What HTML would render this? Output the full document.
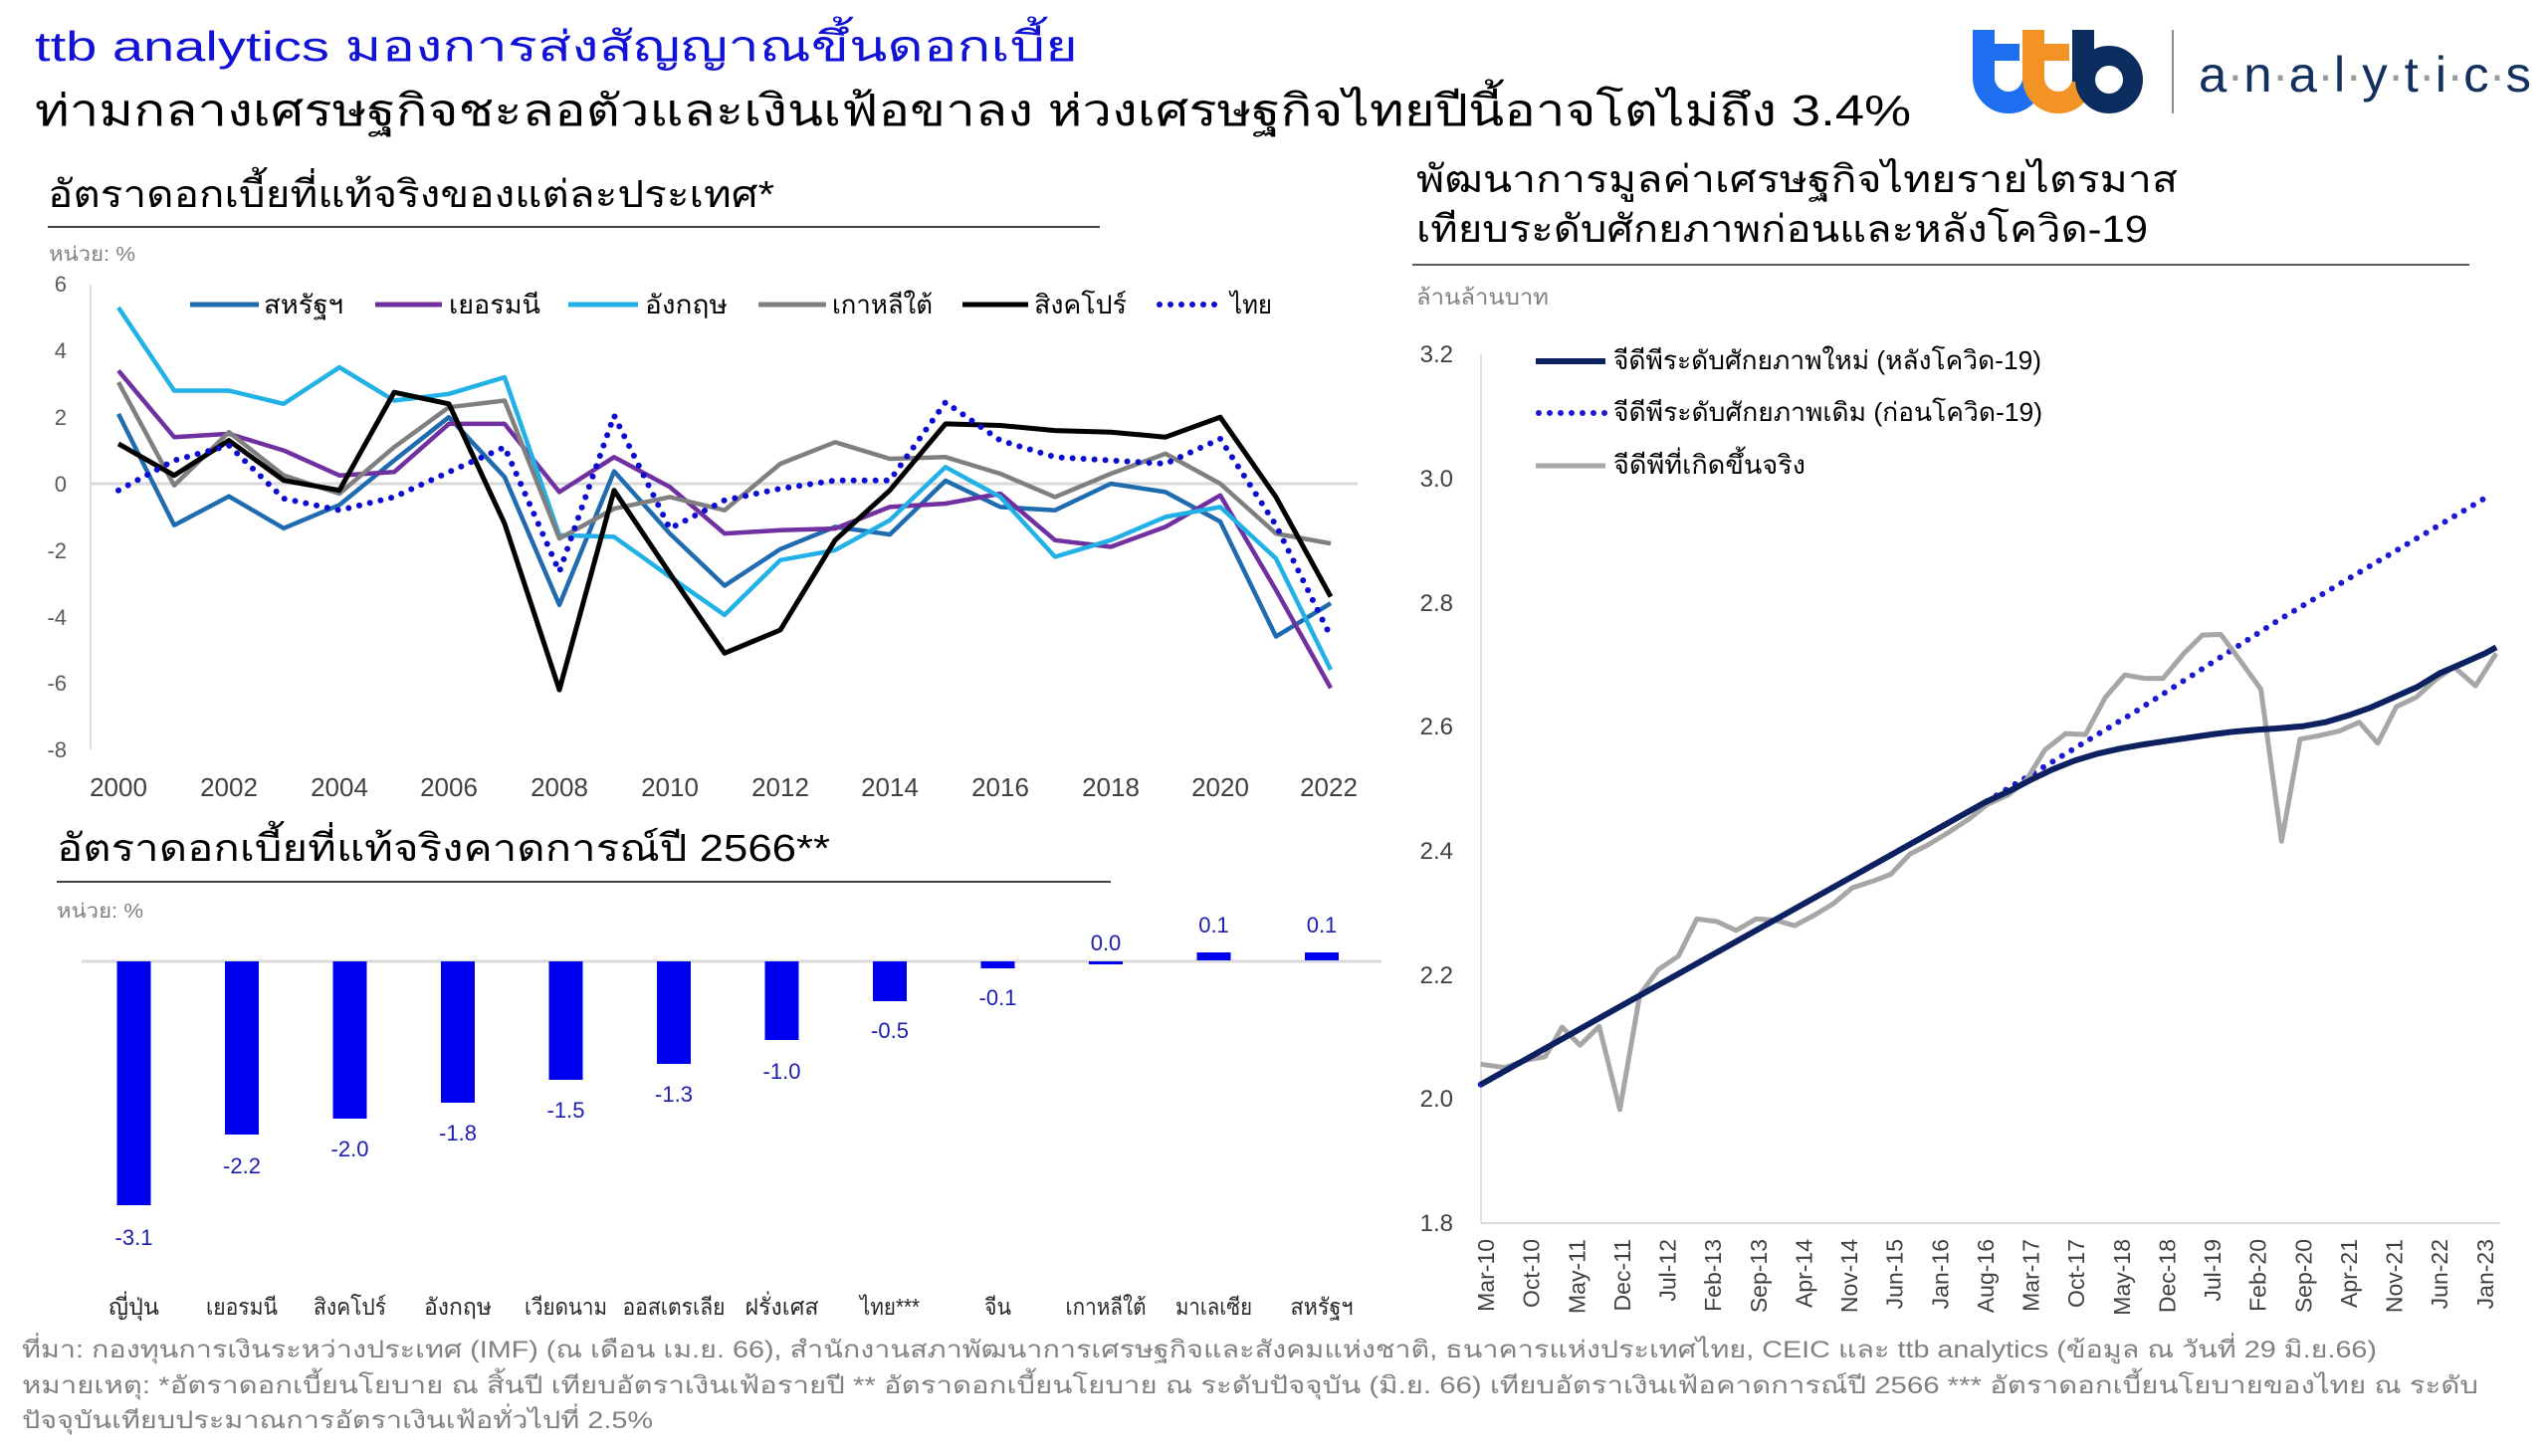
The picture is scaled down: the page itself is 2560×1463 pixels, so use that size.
<!DOCTYPE html>
<html><head><meta charset="utf-8"><style>
html,body{margin:0;padding:0;background:#fff;}
svg{display:block;}
text{font-family:"Liberation Sans","Noto Sans CJK SC",sans-serif;}
</style></head><body>
<svg width="2560" height="1463" viewBox="0 0 2560 1463" xmlns="http://www.w3.org/2000/svg">
<rect width="2560" height="1463" fill="#fff"/>

<!-- Titles -->
<text x="35" y="61" font-size="42" fill="#1212d6" textLength="1048" lengthAdjust="spacingAndGlyphs">ttb analytics มองการส่งสัญญาณขึ้นดอกเบี้ย</text>
<text x="35" y="126" font-size="44" fill="#000" textLength="1885" lengthAdjust="spacingAndGlyphs">ท่ามกลางเศรษฐกิจชะลอตัวและเงินเฟ้อขาลง ห่วงเศรษฐกิจไทยปีนี้อาจโตไม่ถึง 3.4%</text>

<!-- Logo -->
<g fill="none">
<path d="M1993 30 V78 A25 25 0 0 0 2043 78" stroke="#1e6ef0" stroke-width="22"/>
<rect x="1993" y="44" width="36" height="17" fill="#1e6ef0"/>
<path d="M2043 30 V78 A25 25 0 0 0 2093 78" stroke="#f39325" stroke-width="22"/>
<rect x="2043" y="44" width="36" height="17" fill="#f39325"/>
<rect x="2082" y="30" width="22" height="52" fill="#0b2c5f"/>
<circle cx="2119" cy="80" r="24" stroke="#0b2c5f" stroke-width="20"/>
</g>
<line x1="2183" y1="30" x2="2183" y2="114" stroke="#8c8c8c" stroke-width="2"/>
<text x="2209" y="92" font-size="50" fill="#14305e" textLength="334" lengthAdjust="spacingAndGlyphs">a<tspan fill="#9a9a9a">·</tspan>n<tspan fill="#9a9a9a">·</tspan>a<tspan fill="#9a9a9a">·</tspan>l<tspan fill="#9a9a9a">·</tspan>y<tspan fill="#9a9a9a">·</tspan>t<tspan fill="#9a9a9a">·</tspan>i<tspan fill="#9a9a9a">·</tspan>c<tspan fill="#9a9a9a">·</tspan>s</text>

<!-- ===== Left line chart ===== -->
<text x="48" y="208" font-size="38" fill="#000" textLength="730" lengthAdjust="spacingAndGlyphs">อัตราดอกเบี้ยที่แท้จริงของแต่ละประเทศ*</text>
<line x1="48" y1="228" x2="1105" y2="228" stroke="#404040" stroke-width="2"/>
<text x="49" y="262" font-size="20" fill="#808080" textLength="87" lengthAdjust="spacingAndGlyphs">หน่วย: %</text>

<line x1="91" y1="286" x2="91" y2="753" stroke="#e0e0e0" stroke-width="2"/>
<line x1="91" y1="486" x2="1364" y2="486" stroke="#d9d9d9" stroke-width="3"/>

<g font-size="22" fill="#595959" text-anchor="end">
<text x="67" y="293">6</text>
<text x="67" y="360">4</text>
<text x="67" y="427">2</text>
<text x="67" y="494">0</text>
<text x="67" y="561">-2</text>
<text x="67" y="628">-4</text>
<text x="67" y="694">-6</text>
<text x="67" y="761">-8</text>
</g>
<g font-size="26" fill="#404040" text-anchor="middle">
<text x="119" y="800">2000</text>
<text x="230" y="800">2002</text>
<text x="341" y="800">2004</text>
<text x="451" y="800">2006</text>
<text x="562" y="800">2008</text>
<text x="673" y="800">2010</text>
<text x="784" y="800">2012</text>
<text x="894" y="800">2014</text>
<text x="1005" y="800">2016</text>
<text x="1116" y="800">2018</text>
<text x="1226" y="800">2020</text>
<text x="1335" y="800">2022</text>
</g>

<g fill="none" stroke-linejoin="round" stroke-width="4.5">
<polyline stroke="#1f6bb0" points="119,415.9 175,527.8 230,498.7 285,530.8 341,507.4 396,462.6 451,419.2 507,479.3 562,607.9 617,473.6 673,536.1 728,588.5 784,551.8 839,529.4 894,537.1 950,483 1005,509.4 1060,512.7 1116,486 1171,494.4 1226,524.1 1282,639.6 1337,606.2"/>
<polyline stroke="#7030a0" points="119,372.4 175,439.2 230,435.9 285,452.6 341,477.7 396,474.3 451,425.9 507,425.9 562,494.4 617,459.3 673,489.3 728,536.1 784,532.8 839,531.1 894,509.4 950,506 1005,496 1060,542.8 1116,549.5 1171,529.4 1226,497.7 1282,592.9 1337,691.4"/>
<polyline stroke="#21b1e6" points="119,309 175,392.5 230,392.5 285,405.8 341,369.1 396,402.5 451,395.8 507,379.1 562,537.8 617,539.4 673,579.5 728,617.9 784,562.8 839,552.8 894,522.7 950,469.3 1005,499.4 1060,559.5 1116,542.8 1171,519.4 1226,509.4 1282,561.2 1337,673"/>
<polyline stroke="#7f7f7f" points="119,384.1 175,487.7 230,434.2 285,477.7 341,496 396,449.3 451,409.2 507,402.5 562,541.1 617,511.1 673,499.4 728,512.7 784,466 839,444.3 894,461 950,459.3 1005,476 1060,499.4 1116,476 1171,455.9 1226,486 1282,536.1 1337,546.1"/>
<polyline stroke="#000" stroke-width="5" points="119,445.9 175,477.7 230,442.6 285,482.7 341,492.7 396,394.2 451,405.8 507,526.1 562,693.1 617,492.7 673,576.2 728,656.3 784,633 839,542.8 894,492.7 950,425.9 1005,427.5 1060,432.6 1116,434.2 1171,439.2 1226,419.2 1282,499.4 1337,599.6"/>
<polyline stroke="#0a0ad0" stroke-width="6" stroke-linecap="round" stroke-dasharray="0 11" points="119,492.7 175,462.6 230,447.6 285,501 341,512.7 396,499.4 451,474.3 507,449.3 562,574.5 617,417.5 673,531.1 728,502.7 784,491 839,482.7 894,482.7 950,404.2 1005,442.6 1060,459.3 1116,462.6 1171,466 1226,440.9 1282,527.8 1337,639.6"/>
</g>

<!-- left legend -->
<g stroke-width="5" fill="none">
<line x1="191" y1="306" x2="260" y2="306" stroke="#1f6bb0"/>
<line x1="377" y1="306" x2="444" y2="306" stroke="#7030a0"/>
<line x1="571" y1="306" x2="641" y2="306" stroke="#21b1e6"/>
<line x1="762" y1="306" x2="830" y2="306" stroke="#7f7f7f"/>
<line x1="967" y1="306" x2="1033" y2="306" stroke="#000"/>
<line x1="1165" y1="306" x2="1224" y2="306" stroke="#0a0ad0" stroke-width="6" stroke-linecap="round" stroke-dasharray="0 11"/>
</g>
<g font-size="26" fill="#000">
<text x="265" y="315" textLength="80" lengthAdjust="spacingAndGlyphs">สหรัฐฯ</text>
<text x="451" y="315" textLength="92" lengthAdjust="spacingAndGlyphs">เยอรมนี</text>
<text x="648" y="315" textLength="83" lengthAdjust="spacingAndGlyphs">อังกฤษ</text>
<text x="836" y="315" textLength="101" lengthAdjust="spacingAndGlyphs">เกาหลีใต้</text>
<text x="1039" y="315" textLength="93" lengthAdjust="spacingAndGlyphs">สิงคโปร์</text>
<text x="1236" y="315" textLength="42" lengthAdjust="spacingAndGlyphs">ไทย</text>
</g>

<!-- ===== Bar chart ===== -->
<text x="57" y="865" font-size="38" fill="#000" textLength="777" lengthAdjust="spacingAndGlyphs">อัตราดอกเบี้ยที่แท้จริงคาดการณ์ปี 2566**</text>
<line x1="57" y1="886" x2="1116" y2="886" stroke="#404040" stroke-width="2"/>
<text x="57" y="922" font-size="20" fill="#808080" textLength="87" lengthAdjust="spacingAndGlyphs">หน่วย: %</text>

<line x1="82" y1="966" x2="1388" y2="966" stroke="#d9d9d9" stroke-width="3"/>
<g fill="#0000f0">
<rect x="117.5" y="966" width="34" height="245"/>
<rect x="226" y="966" width="34" height="174"/>
<rect x="334.5" y="966" width="34" height="158"/>
<rect x="443" y="966" width="34" height="142"/>
<rect x="551.5" y="966" width="34" height="119"/>
<rect x="660" y="966" width="34" height="103"/>
<rect x="768.5" y="966" width="34" height="79"/>
<rect x="877" y="966" width="34" height="40"/>
<rect x="985.5" y="966" width="34" height="7"/>
<rect x="1094" y="966" width="34" height="3"/>
<rect x="1202.5" y="957" width="34" height="8"/>
<rect x="1311" y="957" width="34" height="8"/>
</g>
<g font-size="22" fill="#1c1cb0" text-anchor="middle">
<text x="134.5" y="1251">-3.1</text>
<text x="243" y="1179">-2.2</text>
<text x="351.5" y="1162">-2.0</text>
<text x="460" y="1146">-1.8</text>
<text x="568.5" y="1123">-1.5</text>
<text x="677" y="1107">-1.3</text>
<text x="785.5" y="1084">-1.0</text>
<text x="894" y="1043">-0.5</text>
<text x="1002.5" y="1010">-0.1</text>
<text x="1111" y="955">0.0</text>
<text x="1219.5" y="937">0.1</text>
<text x="1328" y="937">0.1</text>
</g>
<g font-size="23" fill="#262626" text-anchor="middle">
<text x="134.5" y="1321" textLength="51" lengthAdjust="spacingAndGlyphs">ญี่ปุ่น</text>
<text x="243" y="1321" textLength="72" lengthAdjust="spacingAndGlyphs">เยอรมนี</text>
<text x="351.5" y="1321" textLength="73" lengthAdjust="spacingAndGlyphs">สิงคโปร์</text>
<text x="460" y="1321" textLength="68" lengthAdjust="spacingAndGlyphs">อังกฤษ</text>
<text x="568.5" y="1321" textLength="83" lengthAdjust="spacingAndGlyphs">เวียดนาม</text>
<text x="677" y="1321" textLength="103" lengthAdjust="spacingAndGlyphs">ออสเตรเลีย</text>
<text x="785.5" y="1321" textLength="74" lengthAdjust="spacingAndGlyphs">ฝรั่งเศส</text>
<text x="894" y="1321" textLength="60" lengthAdjust="spacingAndGlyphs">ไทย***</text>
<text x="1002.5" y="1321" textLength="27" lengthAdjust="spacingAndGlyphs">จีน</text>
<text x="1111" y="1321" textLength="81" lengthAdjust="spacingAndGlyphs">เกาหลีใต้</text>
<text x="1219.5" y="1321" textLength="77" lengthAdjust="spacingAndGlyphs">มาเลเซีย</text>
<text x="1328" y="1321" textLength="63" lengthAdjust="spacingAndGlyphs">สหรัฐฯ</text>
</g>

<!-- ===== Right chart ===== -->
<text x="1423" y="193" font-size="38" fill="#000" textLength="765" lengthAdjust="spacingAndGlyphs">พัฒนาการมูลค่าเศรษฐกิจไทยรายไตรมาส</text>
<text x="1423" y="243" font-size="38" fill="#000" textLength="735" lengthAdjust="spacingAndGlyphs">เทียบระดับศักยภาพก่อนและหลังโควิด-19</text>
<line x1="1419" y1="266" x2="2481" y2="266" stroke="#595959" stroke-width="2"/>
<text x="1423" y="306" font-size="22" fill="#808080" textLength="133" lengthAdjust="spacingAndGlyphs">ล้านล้านบาท</text>

<line x1="1488" y1="356" x2="1488" y2="1229" stroke="#e0e0e0" stroke-width="2"/>
<line x1="1488" y1="1229" x2="2512" y2="1229" stroke="#d9d9d9" stroke-width="2"/>
<g font-size="24" fill="#404040" text-anchor="end">
<text x="1460" y="364">3.2</text>
<text x="1460" y="489">3.0</text>
<text x="1460" y="614">2.8</text>
<text x="1460" y="738">2.6</text>
<text x="1460" y="863">2.4</text>
<text x="1460" y="988">2.2</text>
<text x="1460" y="1112">2.0</text>
<text x="1460" y="1237">1.8</text>
</g>
<g font-size="23" fill="#404040" text-anchor="end">
<text transform="translate(1501,1245) rotate(-90)">Mar-10</text>
<text transform="translate(1546.6,1245) rotate(-90)">Oct-10</text>
<text transform="translate(1592.3,1245) rotate(-90)">May-11</text>
<text transform="translate(1637.9,1245) rotate(-90)">Dec-11</text>
<text transform="translate(1683.5,1245) rotate(-90)">Jul-12</text>
<text transform="translate(1729.2,1245) rotate(-90)">Feb-13</text>
<text transform="translate(1774.8,1245) rotate(-90)">Sep-13</text>
<text transform="translate(1820.4,1245) rotate(-90)">Apr-14</text>
<text transform="translate(1866,1245) rotate(-90)">Nov-14</text>
<text transform="translate(1911.7,1245) rotate(-90)">Jun-15</text>
<text transform="translate(1957.3,1245) rotate(-90)">Jan-16</text>
<text transform="translate(2002.9,1245) rotate(-90)">Aug-16</text>
<text transform="translate(2048.6,1245) rotate(-90)">Mar-17</text>
<text transform="translate(2094.2,1245) rotate(-90)">Oct-17</text>
<text transform="translate(2139.8,1245) rotate(-90)">May-18</text>
<text transform="translate(2185.5,1245) rotate(-90)">Dec-18</text>
<text transform="translate(2231.1,1245) rotate(-90)">Jul-19</text>
<text transform="translate(2276.7,1245) rotate(-90)">Feb-20</text>
<text transform="translate(2322.3,1245) rotate(-90)">Sep-20</text>
<text transform="translate(2368,1245) rotate(-90)">Apr-21</text>
<text transform="translate(2413.6,1245) rotate(-90)">Nov-21</text>
<text transform="translate(2459.2,1245) rotate(-90)">Jun-22</text>
<text transform="translate(2504.9,1245) rotate(-90)">Jan-23</text>
</g>

<g fill="none" stroke-linejoin="round">
<polyline stroke="#1a1ad0" stroke-width="6" stroke-linecap="round" stroke-dasharray="0 11" points="1487.7,1089.7 1994.9,805.9 2143.6,716.2 2292.3,621.2 2500.5,498.3"/>
<polyline stroke="#a6a6a6" stroke-width="5" points="1487.7,1069.3 1511.5,1072.7 1533.8,1065.2 1552.4,1061.8 1569.5,1032 1587.4,1050.3 1606.7,1031.3 1627.5,1114.8 1647.6,999.4 1666.2,974.2 1686.3,960.7 1704.9,923.3 1725,926 1744.3,934.9 1764.4,923.3 1784.4,924.7 1803,930.1 1822.4,919.9 1842.4,907.7 1861,892.1 1881.9,885.3 1899.7,878.5 1919,858.1 1937.6,848.6 1957.7,836.4 1978.5,822.8 1997.1,807.9 2017.2,799.1 2035.8,784.1 2054.4,753.6 2075.2,737.3 2095.3,738 2115.3,700.6 2134.7,678.2 2154.7,681.6 2173.3,681.6 2194.2,656.5 2212.8,638.1 2231.3,637.5 2251.4,664.6 2271.5,692.5 2292.3,845.2 2310.9,742.7 2329.5,739.3 2350.3,734.6 2370.4,725.7 2389,746.8 2407.6,710.1 2427.7,700.6 2446.2,683.6 2465.6,670.1 2487.2,689.1 2508,656.5"/>
<polyline stroke="#0d2060" stroke-width="6" points="1487.7,1089.7 1994.9,805.9 2017.2,795.7 2039.5,784.1 2061.8,773.3 2084.1,764.4 2106.4,757.6 2130.2,752.2 2153.3,748.1 2175.6,744.7 2198.6,741.4 2221.7,738 2244,735.2 2267,733.2 2290.1,731.8 2313.1,729.8 2336.2,725.7 2359.2,718.9 2382.3,710.8 2405.3,700.6 2428.4,690.4 2450.7,676.8 2473.7,666.7 2496.8,656.5 2508,650.4"/>
</g>

<!-- right legend -->
<line x1="1543" y1="363" x2="1613" y2="363" stroke="#0d2060" stroke-width="6"/>
<line x1="1546" y1="415" x2="1613" y2="415" stroke="#1a1ad0" stroke-width="6" stroke-linecap="round" stroke-dasharray="0 11"/>
<line x1="1543" y1="468" x2="1613" y2="468" stroke="#a6a6a6" stroke-width="5"/>
<g font-size="26" fill="#000">
<text x="1621" y="371" textLength="430" lengthAdjust="spacingAndGlyphs">จีดีพีระดับศักยภาพใหม่ (หลังโควิด-19)</text>
<text x="1621" y="423" textLength="431" lengthAdjust="spacingAndGlyphs">จีดีพีระดับศักยภาพเดิม (ก่อนโควิด-19)</text>
<text x="1621" y="476" textLength="193" lengthAdjust="spacingAndGlyphs">จีดีพีที่เกิดขึ้นจริง</text>
</g>

<!-- Footer -->
<g font-size="24" fill="#808080">
<text x="22" y="1364" textLength="2366" lengthAdjust="spacingAndGlyphs">ที่มา: กองทุนการเงินระหว่างประเทศ (IMF) (ณ เดือน เม.ย. 66), สำนักงานสภาพัฒนาการเศรษฐกิจและสังคมแห่งชาติ, ธนาคารแห่งประเทศไทย, CEIC และ ttb analytics (ข้อมูล ณ วันที่ 29 มิ.ย.66)</text>
<text x="22" y="1400" textLength="2468" lengthAdjust="spacingAndGlyphs">หมายเหตุ: *อัตราดอกเบี้ยนโยบาย ณ สิ้นปี เทียบอัตราเงินเฟ้อรายปี  ** อัตราดอกเบี้ยนโยบาย ณ ระดับปัจจุบัน (มิ.ย. 66) เทียบอัตราเงินเฟ้อคาดการณ์ปี 2566 *** อัตราดอกเบี้ยนโยบายของไทย ณ ระดับ</text>
<text x="22" y="1435" textLength="634" lengthAdjust="spacingAndGlyphs">ปัจจุบันเทียบประมาณการอัตราเงินเฟ้อทั่วไปที่ 2.5%</text>
</g>
</svg>
</body></html>
